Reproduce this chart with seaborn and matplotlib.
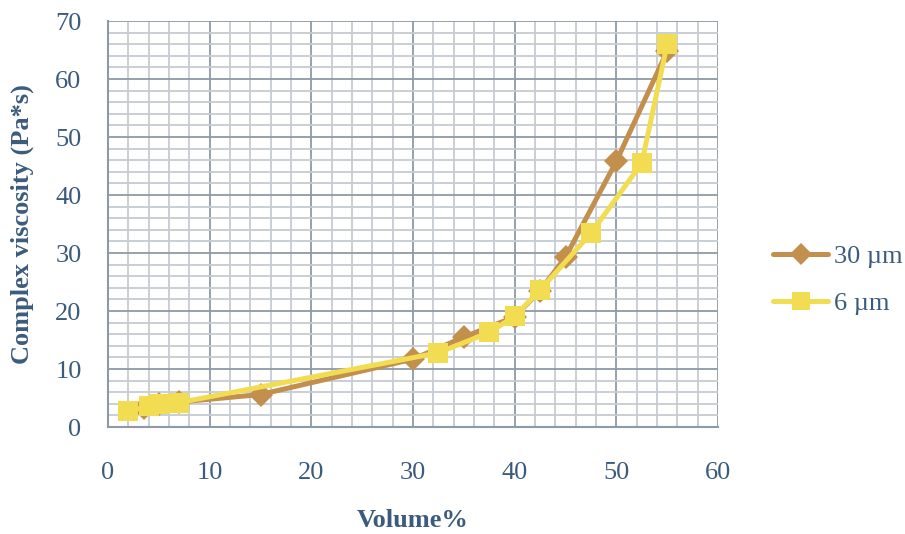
import matplotlib
matplotlib.use("Agg")
import matplotlib.pyplot as plt
import seaborn as sns
import pandas as pd
from matplotlib.ticker import MultipleLocator

# data
vol_30 = [3.5, 5, 7, 15, 30, 35, 40, 42.5, 45, 50, 55]
visc_30 = [3.3, 4.0, 4.3, 5.6, 11.7, 15.5, 19.0, 23.5, 29.3, 45.8, 64.8]
vol_6 = [2, 4, 5, 7, 32.5, 37.5, 40, 42.5, 47.5, 52.5, 55]
visc_6 = [2.7, 3.6, 3.9, 4.2, 12.8, 16.3, 19.1, 23.6, 33.4, 45.5, 66.0]
labels = ["30 µm", "6 µm"]

sns.set_theme(style="white")
plt.rcParams["font.family"] = ["Liberation Serif", "DejaVu Serif"]

txt = "#3B5B7D"
major = "#8D9AA7"
minor = "#C6CCD2"
brown = "#C38F4D"
yellow = "#F2DC52"

fig = plt.figure(figsize=(9.05, 5.34), dpi=100)
ax = fig.add_axes([108/905, 1-427/534, (718-108)/905, (427-21)/534])

df30 = pd.DataFrame({"x": vol_30, "y": visc_30})
df6 = pd.DataFrame({"x": vol_6, "y": visc_6})
sns.lineplot(data=df30, x="x", y="y", ax=ax, color=brown, linewidth=3.6,
             marker="D", markersize=12, markeredgewidth=0, estimator=None,
             sort=False, label=labels[0], zorder=3)
sns.lineplot(data=df6, x="x", y="y", ax=ax, color=yellow, linewidth=3.6,
             marker="s", markersize=14, markeredgewidth=0, estimator=None,
             sort=False, label=labels[1], zorder=4)

ax.set_xlim(0, 60)
ax.set_ylim(0, 70)
ax.xaxis.set_major_locator(MultipleLocator(10))
ax.yaxis.set_major_locator(MultipleLocator(10))
ax.xaxis.set_minor_locator(MultipleLocator(2))
ax.yaxis.set_minor_locator(MultipleLocator(2))
ax.grid(which="minor", color=minor, linewidth=1.3)
ax.grid(which="major", color=major, linewidth=1.3)
ax.set_axisbelow(True)
for s in ["top", "right"]:
    ax.spines[s].set_visible(False)
for s in ["left", "bottom"]:
    ax.spines[s].set_color(major)
    ax.spines[s].set_linewidth(1.5)
ax.tick_params(which="major", direction="out", length=6, width=1.5, color=major,
               labelsize=19, labelcolor=txt)
ax.tick_params(axis="y", which="major", pad=13)
ax.tick_params(axis="x", which="major", pad=19)
ax.tick_params(which="minor", length=0)

ax.set_xlabel("Volume%", fontsize=19, fontweight="bold", color=txt, labelpad=18)
ax.set_ylabel("Complex viscosity (Pa*s)", fontsize=19, fontweight="bold", color=txt, labelpad=15)

leg = ax.legend(loc="center left", bbox_to_anchor=(773/905, 1-280/534),
                bbox_transform=fig.transFigure, frameon=False, fontsize=19,
                handlelength=2.1, labelcolor=txt, handletextpad=0.2,
                labelspacing=0.9, borderaxespad=0, borderpad=0, markerscale=0.9)

fig.savefig("out.png", dpi=100)
